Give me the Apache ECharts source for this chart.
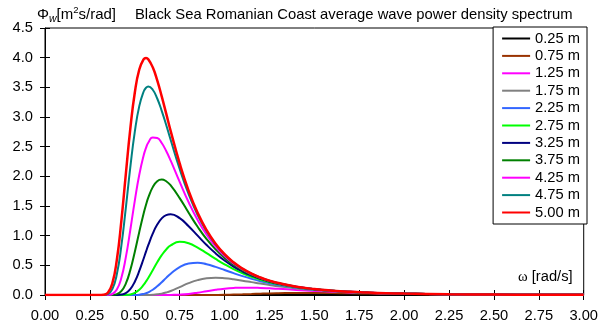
<!DOCTYPE html>
<html>
<head>
<meta charset="utf-8">
<script src="https://cdn.jsdelivr.net/npm/echarts@6/dist/echarts.min.js"></script>
<style>
  html, body { margin: 0; padding: 0; background: #fff; }
  #chart { width: 601px; height: 326px; }
</style>
</head>
<body>
<div id="chart"></div>
<script>
// Angular frequency (rad/s)
var omega = [0, 0.30, 0.325, 0.35, 0.375, 0.40, 0.425, 0.45, 0.475, 0.50, 0.525, 0.55, 0.5625, 0.575, 0.60, 0.625, 0.65, 0.675, 0.70, 0.75, 0.80, 0.85, 0.90, 0.95, 1.00, 1.05, 1.10, 1.15, 1.20, 1.25, 1.30, 1.40, 1.50, 1.60, 1.70, 1.80, 1.90, 2.00, 2.25, 2.50, 2.75, 3.00];

var seriesNames = ['0.25 m', '0.75 m', '1.25 m', '1.75 m', '2.25 m', '2.75 m', '3.25 m', '3.75 m', '4.25 m', '4.75 m', '5.00 m'];

// Wave power density spectrum values (m^2 s/rad)
var hs025 = [0, 0, 0, 0, 0, 0, 0, 0, 0, 0, 0, 0, 0, 0, 0, 0, 0, 0, 0, 0, 0, 0, 0, 0, 0, 0, 0, 0, 0, 0, 0, 0, 0, 0, 0, 0.000, 0.001, 0.001, 0.002, 0.002, 0.002, 0.002];
var hs075 = [0, 0, 0, 0, 0, 0, 0, 0, 0, 0, 0, 0, 0, 0, 0, 0, 0, 0, 0, 0, 0, 0, 0.000, 0.001, 0.003, 0.007, 0.011, 0.016, 0.022, 0.027, 0.030, 0.034, 0.034, 0.032, 0.028, 0.024, 0.021, 0.017, 0.011, 0.007, 0.005, 0.003];
var hs125 = [0, 0, 0, 0, 0, 0, 0, 0, 0, 0, 0, 0, 0, 0, 0, 0, 0, 0, 0.001, 0.006, 0.018, 0.039, 0.064, 0.088, 0.107, 0.119, 0.124, 0.124, 0.120, 0.113, 0.105, 0.086, 0.069, 0.055, 0.043, 0.034, 0.027, 0.022, 0.013, 0.008, 0.005, 0.003];
var hs175 = [0, 0, 0, 0, 0, 0, 0, 0, 0, 0, 0, 0, 0, 0.001, 0.004, 0.011, 0.023, 0.042, 0.068, 0.133, 0.199, 0.251, 0.281, 0.290, 0.282, 0.265, 0.242, 0.217, 0.192, 0.169, 0.147, 0.111, 0.084, 0.064, 0.049, 0.037, 0.029, 0.023, 0.013, 0.008, 0.005, 0.003];
var hs225 = [0, 0, 0, 0, 0, 0, 0, 0, 0, 0.001, 0.006, 0.019, 0.030, 0.045, 0.088, 0.146, 0.215, 0.289, 0.359, 0.471, 0.531, 0.542, 0.518, 0.474, 0.422, 0.368, 0.318, 0.273, 0.233, 0.199, 0.169, 0.124, 0.091, 0.068, 0.051, 0.039, 0.030, 0.023, 0.013, 0.008, 0.005, 0.003];
var hs275 = [0, 0, 0, 0, 0, 0, 0, 0.002, 0.010, 0.035, 0.087, 0.173, 0.228, 0.288, 0.419, 0.552, 0.671, 0.767, 0.837, 0.896, 0.872, 0.799, 0.705, 0.608, 0.517, 0.436, 0.366, 0.306, 0.257, 0.216, 0.182, 0.130, 0.095, 0.070, 0.052, 0.040, 0.031, 0.024, 0.013, 0.008, 0.005, 0.003];
var hs325 = [0, 0, 0, 0, 0, 0.001, 0.007, 0.032, 0.099, 0.224, 0.405, 0.620, 0.731, 0.839, 1.033, 1.187, 1.291, 1.347, 1.361, 1.295, 1.159, 1.000, 0.843, 0.702, 0.581, 0.479, 0.396, 0.328, 0.272, 0.226, 0.189, 0.134, 0.097, 0.071, 0.053, 0.040, 0.031, 0.024, 0.013, 0.008, 0.005, 0.003];
var hs375 = [0, 0, 0, 0, 0.002, 0.014, 0.064, 0.192, 0.419, 0.725, 1.063, 1.381, 1.520, 1.640, 1.818, 1.919, 1.946, 1.917, 1.847, 1.633, 1.386, 1.150, 0.942, 0.768, 0.625, 0.509, 0.416, 0.341, 0.282, 0.233, 0.194, 0.137, 0.098, 0.072, 0.054, 0.040, 0.031, 0.024, 0.013, 0.008, 0.005, 0.003];
var hs425 = [0, 0, 0, 0.002, 0.017, 0.091, 0.287, 0.634, 1.096, 1.587, 2.026, 2.359, 2.479, 2.567, 2.654, 2.645, 2.561, 2.427, 2.264, 1.906, 1.563, 1.263, 1.015, 0.815, 0.656, 0.530, 0.430, 0.351, 0.288, 0.238, 0.198, 0.139, 0.099, 0.072, 0.054, 0.041, 0.031, 0.024, 0.013, 0.008, 0.005, 0.003];
var hs475 = [0, 0, 0.001, 0.015, 0.099, 0.349, 0.822, 1.466, 2.150, 2.749, 3.183, 3.434, 3.493, 3.514, 3.459, 3.312, 3.104, 2.864, 2.612, 2.125, 1.699, 1.349, 1.070, 0.851, 0.679, 0.545, 0.441, 0.358, 0.293, 0.241, 0.200, 0.140, 0.100, 0.073, 0.054, 0.041, 0.031, 0.024, 0.013, 0.008, 0.005, 0.003];
var hs500 = [0, 0, 0.003, 0.037, 0.195, 0.590, 1.242, 2.034, 2.801, 3.408, 3.800, 3.977, 3.995, 3.974, 3.837, 3.618, 3.347, 3.056, 2.763, 2.217, 1.756, 1.384, 1.092, 0.865, 0.688, 0.551, 0.445, 0.361, 0.295, 0.243, 0.201, 0.140, 0.100, 0.073, 0.054, 0.041, 0.031, 0.024, 0.013, 0.008, 0.005, 0.003];

var seriesValues = [hs025, hs075, hs125, hs175, hs225, hs275, hs325, hs375, hs425, hs475, hs500];
var seriesColors = ['#000000', '#993300', '#FF00FF', '#808080', '#3366FF', '#00FF00', '#000080', '#008000', '#FF00FF', '#008080', '#FF0000'];
var seriesWidths = [2, 2, 2, 2, 2, 2, 2, 2, 2, 2, 2.5];

var FONT = "'Liberation Sans', Arial, sans-serif";
var FS = 14.7;

var series = seriesNames.map(function (name, k) {
  return {
    name: name,
    type: 'line',
    xAxisIndex: 0,
    yAxisIndex: 0,
    symbol: 'none',
    showSymbol: false,
    smooth: 0.5,
    animation: false,
    silent: true,
    color: seriesColors[k],
    lineStyle: { color: seriesColors[k], width: seriesWidths[k] },
    data: omega.map(function (w, i) { return [w, seriesValues[k][i]]; })
  };
});

var chart = echarts.init(document.getElementById('chart'), null, { renderer: 'canvas' });

var axisBase = {
  type: 'value',
  splitLine: { show: false }
};

chart.setOption({
  backgroundColor: '#ffffff',
  animation: false,
  textStyle: { fontFamily: FONT, color: '#000' },
  grid: {
    left: 45, right: 14, top: 28, bottom: 31,
    show: true, borderColor: '#000', borderWidth: 1, backgroundColor: 'transparent'
  },
  xAxis: [
    Object.assign({}, axisBase, {
      min: 0, max: 3, interval: 0.25, position: 'bottom',
      axisLine: { show: true, lineStyle: { color: '#000', width: 1 } },
      axisTick: { show: true, inside: false, length: 5, lineStyle: { color: '#000' } },
      axisLabel: { show: true, fontSize: FS, color: '#000', fontFamily: FONT, margin: 13,
        formatter: function (v) { return v.toFixed(2); } }
    }),
    Object.assign({}, axisBase, {
      min: 0, max: 3, interval: 0.25, position: 'bottom', offset: 0,
      axisLine: { show: false },
      axisTick: { show: true, inside: true, length: 5, lineStyle: { color: '#000' } },
      axisLabel: { show: false }
    })
  ],
  yAxis: [
    Object.assign({}, axisBase, {
      min: 0, max: 4.5, interval: 0.5, position: 'left',
      axisLine: { show: true, lineStyle: { color: '#000', width: 1 } },
      axisTick: { show: true, inside: false, length: 5, lineStyle: { color: '#000' } },
      axisLabel: { show: true, fontSize: FS, color: '#000', fontFamily: FONT, margin: 12,
        formatter: function (v) { return v.toFixed(1); } }
    }),
    Object.assign({}, axisBase, {
      min: 0, max: 4.5, interval: 0.5, position: 'left', offset: 0,
      axisLine: { show: false },
      axisTick: { show: true, inside: true, length: 5, lineStyle: { color: '#000' } },
      axisLabel: { show: false }
    })
  ],
  legend: {
    orient: 'vertical',
    right: 14,
    top: 27,
    data: seriesNames,
    itemWidth: 28,
    itemHeight: 14,
    itemGap: 2.4,
    padding: [4, 7, 4, 8],
    borderColor: '#000',
    borderWidth: 1,
    borderRadius: 0,
    backgroundColor: '#ffffff',
    selectedMode: false,
    itemStyle: { opacity: 0, borderWidth: 0 },
    lineStyle: { width: 2 },
    textStyle: { fontSize: FS, color: '#000', fontFamily: FONT }
  },
  graphic: [
    {
      type: 'text', x: 37, y: 15, silent: true,
      style: {
        text: '{a|Φ}{s|w}{a|[m}{p|2}{a|s/rad]}',
        verticalAlign: 'middle',
        rich: {
          a: { fontSize: 15, fontFamily: FONT, color: '#000', lineHeight: 20, verticalAlign: 'middle' },
          s: { fontSize: 10.5, fontStyle: 'italic', fontFamily: FONT, color: '#000', lineHeight: 10, verticalAlign: 'bottom' },
          p: { fontSize: 9.5, fontFamily: FONT, color: '#000', lineHeight: 10, verticalAlign: 'top' }
        }
      }
    },
    {
      type: 'text', x: 135, y: 15, silent: true,
      style: {
        text: 'Black Sea Romanian Coast average wave power density spectrum',
        font: '14.8px ' + FONT, fill: '#000', verticalAlign: 'middle'
      }
    },
    {
      type: 'text', x: 518, y: 277, silent: true,
      style: {
        text: '{o|ω}{a| [rad/s]}',
        verticalAlign: 'middle',
        rich: {
          o: { fontSize: FS, fontFamily: "'Liberation Serif', 'DejaVu Serif', serif", color: '#000' },
          a: { fontSize: FS, fontFamily: FONT, color: '#000' }
        }
      }
    }
  ],
  series: series
});
</script>
</body>
</html>
